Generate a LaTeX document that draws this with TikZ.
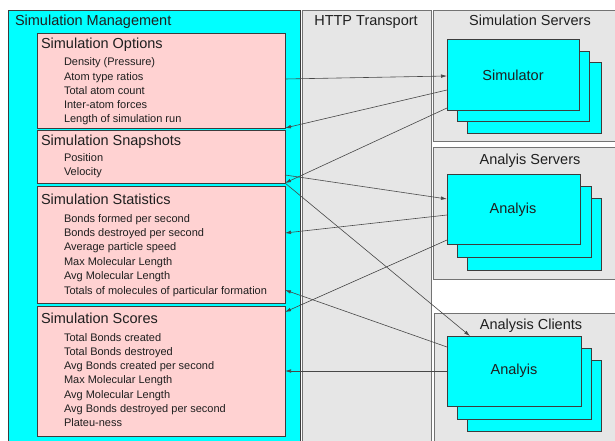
\documentclass[tikz,border=0pt]{standalone}
\usepackage{fontspec}
\setmainfont{Liberation Sans}
\usetikzlibrary{arrows.meta,shadows,fit}
\definecolor{cy}{HTML}{00FFFF}
\definecolor{pk}{HTML}{FFD2D2}
\definecolor{gr}{HTML}{E6E6E6}
\definecolor{ln}{HTML}{3C3C3C}
\begin{document}
\begin{tikzpicture}[x=1pt,y=-1pt,
  every node/.style={inner sep=0pt,outer sep=0pt},
  shad/.style={drop shadow={shadow xshift=1.3pt,shadow yshift=-1.3pt,fill=black!60,opacity=1}},
  panel/.style={draw=black!55,line width=0.7pt,fill=gr,shad},
  mgmtpanel/.style={draw=ln,line width=0.7pt,fill=cy,shad},
  pinkbox/.style={draw=ln,line width=0.7pt,fill=pk,shad},
  cybox/.style={draw=ln,line width=0.7pt,fill=cy,shad},
  bigtext/.style={font=\fontsize{14.5}{17}\selectfont,text=black!88},
  itemtext/.style={font=\fontsize{11}{13}\selectfont,text=black!88,anchor=base west},
  conn/.style={draw=black!72,line width=0.6pt,-{Latex[length=6pt,width=3.6pt]}}
]
\clip (0,0) rectangle (615,441);
\fill[white] (0,0) rectangle (615,441);

% panels
\node[mgmtpanel,fit={(8,10) (300,445)}] (mgmt) {};
\node[panel,fit={(302,10) (431,445)}] (http) {};
\node[panel,fit={(433,10) (618,141)}] (simsrv) {};
\node[panel,fit={(433,147) (618,279)}] (anasrv) {};
\node[panel,fit={(434,313) (618,445)}] (anacli) {};

% panel titles
\node[bigtext,anchor=base west] (tmgmt) at (15,26) {Simulation Management};
\node[bigtext,anchor=base] (thttp) at (366,26) {HTTP Transport};
\node[bigtext,anchor=base] (tsimsrv) at (530,26) {Simulation Servers};
\node[bigtext,anchor=base] (tanasrv) at (530,164) {Analyis Servers};
\node[bigtext,anchor=base] (tanacli) at (531,329) {Analysis Clients};

% pink boxes
\node[pinkbox,fit={(37,33) (285,128)}] (opts) {};
\node[pinkbox,fit={(37,130) (285,183)}] (snaps) {};
\node[pinkbox,fit={(37,186) (285,303)}] (stats) {};
\node[pinkbox,fit={(37,306) (285,436)}] (scores) {};

\node[bigtext,anchor=base west] (topts) at (41,49) {Simulation Options};
\foreach \t [count=\i] in {Density (Pressure),Atom type ratios,Total atom count,Inter-atom forces,Length of simulation run}
  \node[itemtext] (opt\i) at (64,{66+14.1*(\i-1)}) {\t};

\node[bigtext,anchor=base west] (tsnaps) at (41,145) {Simulation Snapshots};
\foreach \t [count=\i] in {Position,Velocity}
  \node[itemtext] (snap\i) at (64,{161+14*(\i-1)}) {\t};

\node[bigtext,anchor=base west] (tstats) at (41,204) {Simulation Statistics};
\foreach \t [count=\i] in {Bonds formed per second,Bonds destroyed per second,Average particle speed,Max Molecular Length,Avg Molecular Length,Totals of molecules of particular formation}
  \node[itemtext] (stat\i) at (64,{222+14.4*(\i-1)}) {\t};

\node[bigtext,anchor=base west] (tscores) at (41,323) {Simulation Scores};
\foreach \t [count=\i] in {Total Bonds created,Total Bonds destroyed,Avg Bonds created per second,Max Molecular Length,Avg Molecular Length,Avg Bonds destroyed per second,Plateu-ness}
  \node[itemtext] (score\i) at (64,{341+14.33*(\i-1)}) {\t};

% simulator stack
\node[cybox,fit={(467,62) (601,133)}] (simC) {};
\node[cybox,fit={(457,51) (589,121)}] (simB) {};
\node[cybox,fit={(447,39) (579,110)}] (simA) {};
\node[bigtext,anchor=base] (tsim) at (513,81) {Simulator};

% analysis server stack
\node[cybox,fit={(467,198) (601,270)}] (anaC) {};
\node[cybox,fit={(457,186) (591,257)}] (anaB) {};
\node[cybox,fit={(447,174) (580,244)}] (anaA) {};
\node[bigtext,anchor=base] (tana) at (513,213) {Analyis};

% analysis client stack
\node[cybox,fit={(467,360) (601,431)}] (cliC) {};
\node[cybox,fit={(457,348) (591,419)}] (cliB) {};
\node[cybox,fit={(447,336) (581,406)}] (cliA) {};
\node[bigtext,anchor=base] (tcli) at (514,374) {Analyis};

% connectors
\draw[conn] (opts.east |- 0,79) -- (simA.west |- 0,76);
\draw[conn] (simA.west |- 0,90) -- (opts.south east);
\draw[conn] (simA.west |- 0,108) -- (snaps.south east);
\draw[conn] (snaps.east |- 0,175) -- (anaA.west |- 0,199);
\draw[conn] (snaps.south east) -- (cliA.north -| 470,0);
\draw[conn] (anaA.west |- 0,215) -- (stats.east |- 0,233);
\draw[conn] (anaA.west |- 0,240) -- (scores.east |- 0,312);
\draw[conn] (cliA.west |- 0,347) -- (stats.east |- 0,290);
\draw[conn] (cliA.west |- 0,371) -- (scores.east |- 0,371);
\end{tikzpicture}
\end{document}
